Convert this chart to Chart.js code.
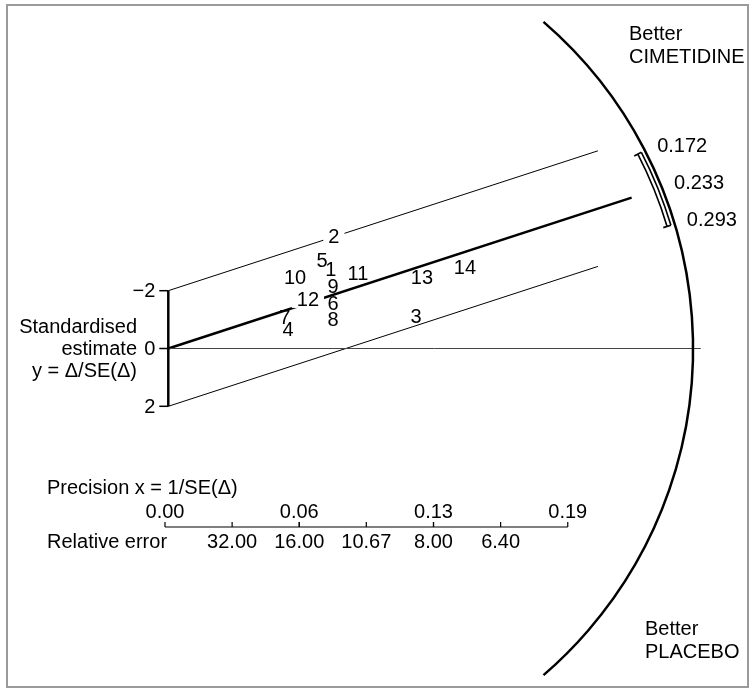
<!DOCTYPE html>
<html lang="en">
<head>
    <meta charset="UTF-8">
    <title>Radial plot - cimetidine vs placebo</title>
    <script src="https://cdn.jsdelivr.net/npm/chart.js"></script>
    <style>
        body {
            margin: 0;
            background: #fff;
        }
        .wrap {
            position: relative;
            width: 754px;
            height: 689px;
        }
    </style>
</head>
<body>
    <div class="wrap">
        <canvas id="radial"></canvas>
    </div>

    <script>
        // study points: precision x = 1/SE, standardised estimate y = est/SE
        const studyIds = ['1', '2', '3', '4', '5', '6', '7', '8', '9', '10', '11', '12', '13', '14'];
        const precision = [0.0757, 0.0771, 0.1153, 0.0557, 0.0716, 0.0767, 0.0543, 0.0767, 0.0767, 0.0590, 0.0883, 0.0650, 0.1181, 0.1381];
        const estimate = [-2.75, -3.89, -1.12, -0.67, -3.03, -1.57, -1.06, -0.99, -2.16, -2.47, -2.61, -1.68, -2.47, -2.82];

        // fitted line and the +-2 band
        const pooledSlope = -24.2;
        const bandHalf = 2;
        const centreLineEnd = 0.2157;
        const bandLineEnd = 0.2;
        const zeroLineEnd = 0.2479;

        // y axis
        const yTicks = [-2, 0, 2];
        const yTickLabels = ['\u22122', '0', '2'];

        // precision axis and relative error
        const precisionTicks = [0, 0.0625, 0.125, 0.1875];
        const precisionLabels = ['0.00', '0.06', '0.13', '0.19'];
        const relErrorTicks = [32, 16, 10.67, 8, 6.4];
        const relErrorLabels = ['32.00', '16.00', '10.67', '8.00', '6.40'];

        // arc scale: slope of each ray and its label (pooled estimate and CI)
        const arcSlopes = [-30.8, -24.2, -18.2];
        const arcLabels = ['0.172', '0.233', '0.293'];

        // labels drawn on a white patch (they break the lines under them)
        const maskedIds = ['2', '12'];

        const FONT = '20px "Liberation Sans", Arial, sans-serif';

        // geometry of the arc, in data units of x
        const arcCentreX = 0.0434;
        const arcRadius = 0.2009;
        const arcHalfAngle = 49.2;

        function rayHit(ox, oy, ux, uy, cx, cy, r) {
            const fx = ox - cx, fy = oy - cy;
            const b = fx * ux + fy * uy;
            const c = fx * fx + fy * fy - r * r;
            const t = -b + Math.sqrt(b * b - c);
            return { x: ox + t * ux, y: oy + t * uy };
        }

        const radialPlot = {
            id: 'radialPlot',
            beforeDatasetsDraw(chart) {
                const ctx = chart.ctx;
                ctx.save();
                ctx.strokeStyle = '#9a9a9a';
                ctx.lineWidth = 2;
                ctx.strokeRect(7, 5, 741, 682);
                ctx.restore();
            },
            afterDatasetsDraw(chart) {
                const ctx = chart.ctx;
                const xs = chart.scales.x, ys = chart.scales.y;
                const ox = xs.getPixelForValue(0), oy = ys.getPixelForValue(0);
                const pxPerX = xs.getPixelForValue(1) - ox;

                ctx.save();
                ctx.fillStyle = '#000';
                ctx.strokeStyle = '#000';
                ctx.font = FONT;

                // vertical axis -2..2
                ctx.lineWidth = 2.5;
                ctx.beginPath();
                ctx.moveTo(ox, ys.getPixelForValue(yTicks[0]));
                ctx.lineTo(ox, ys.getPixelForValue(yTicks[yTicks.length - 1]));
                ctx.stroke();
                ctx.lineWidth = 1.5;
                ctx.textAlign = 'right';
                ctx.textBaseline = 'middle';
                yTicks.forEach((v, i) => {
                    const py = ys.getPixelForValue(v);
                    ctx.beginPath();
                    ctx.moveTo(ox - 9, py);
                    ctx.lineTo(ox, py);
                    ctx.stroke();
                    ctx.fillText(yTickLabels[i], ox - 13, py + 1);
                });
                ctx.fillText('Standardised', 137, 327);
                ctx.fillText('estimate', 137, 349);
                ctx.fillText('y = \u0394/SE(\u0394)', 137, 371);

                // study numbers
                ctx.textAlign = 'center';
                const meta = chart.getDatasetMeta(0);
                meta.data.forEach((pt, i) => {
                    const id = studyIds[i];
                    if (maskedIds.includes(id)) {
                        const w = ctx.measureText(id).width + 10;
                        ctx.fillStyle = '#fff';
                        ctx.fillRect(pt.x - w / 2, pt.y - 8, w, 16);
                        ctx.fillStyle = '#000';
                    }
                    ctx.fillText(id, pt.x, pt.y + 1);
                });

                // outer arc
                const cx = xs.getPixelForValue(arcCentreX), cy = oy;
                const R = arcRadius * pxPerX;
                const a = arcHalfAngle * Math.PI / 180;
                ctx.lineWidth = 2.5;
                ctx.beginPath();
                ctx.arc(cx, cy, R, -a, a);
                ctx.stroke();

                // rays for the arc scale
                const hits = arcSlopes.map(z => {
                    let ux = pxPerX, uy = ys.getPixelForValue(z) - oy;
                    const n = Math.hypot(ux, uy);
                    ux /= n; uy /= n;
                    return {
                        outer: rayHit(ox, oy, ux, uy, cx, cy, R),
                        mid: rayHit(ox, oy, ux, uy, cx, cy, R - 6)
                    };
                });

                // CI bracket inside the arc
                const angA = Math.atan2(hits[0].mid.y - cy, hits[0].mid.x - cx);
                const angB = Math.atan2(hits[2].mid.y - cy, hits[2].mid.x - cx);
                ctx.lineWidth = 1.6;
                [R - 4, R - 8].forEach(r => {
                    ctx.beginPath();
                    ctx.arc(cx, cy, r, angA, angB);
                    ctx.stroke();
                });
                [angA, angB].forEach(ang => {
                    ctx.beginPath();
                    ctx.moveTo(cx + (R - 12) * Math.cos(ang), cy + (R - 12) * Math.sin(ang));
                    ctx.lineTo(cx + (R - 4) * Math.cos(ang), cy + (R - 4) * Math.sin(ang));
                    ctx.stroke();
                });

                ctx.textAlign = 'left';
                hits.forEach((h, i) => {
                    ctx.fillText(arcLabels[i], h.outer.x + 12, h.outer.y - 4);
                });

                ctx.fillText('Better', 629, 34);
                ctx.fillText('CIMETIDINE', 629, 57);
                ctx.fillText('Better', 645, 629);
                ctx.fillText('PLACEBO', 645, 652);

                // precision axis with relative error underneath
                const axisY = 527;
                const shift = -3.3;
                const px = v => xs.getPixelForValue(v) + shift;
                ctx.fillText('Precision x = 1/SE(\u0394)', 47, 488);
                ctx.fillText('Relative error', 47, 542);
                ctx.lineWidth = 1.2;
                ctx.beginPath();
                ctx.moveTo(px(precisionTicks[0]), axisY);
                ctx.lineTo(px(precisionTicks[precisionTicks.length - 1]), axisY);
                ctx.stroke();
                ctx.textAlign = 'center';
                precisionTicks.forEach((v, i) => {
                    ctx.beginPath();
                    ctx.moveTo(px(v), axisY - 5);
                    ctx.lineTo(px(v), axisY);
                    ctx.stroke();
                    ctx.fillText(precisionLabels[i], px(v), 512);
                });
                relErrorTicks.forEach((v, i) => {
                    ctx.beginPath();
                    ctx.moveTo(px(1 / v), axisY - 5);
                    ctx.lineTo(px(1 / v), axisY);
                    ctx.stroke();
                    ctx.fillText(relErrorLabels[i], px(1 / v), 542);
                });

                ctx.restore();
            }
        };

        const lineSet = (pts, width, colour) => ({
            type: 'line',
            data: pts,
            borderColor: colour,
            borderWidth: width,
            pointRadius: 0,
            fill: false
        });

        const chart = new Chart(document.getElementById('radial'), {
            type: 'scatter',
            data: {
                datasets: [
                    {
                        label: 'Studies',
                        data: studyIds.map((id, i) => ({ x: precision[i], y: estimate[i] })),
                        pointRadius: 0
                    },
                    lineSet([{ x: 0, y: 0 }, { x: zeroLineEnd, y: 0 }], 1, '#444'),
                    lineSet([{ x: 0, y: 0 }, { x: centreLineEnd, y: pooledSlope * centreLineEnd }], 2.5, '#000'),
                    lineSet([{ x: 0, y: -bandHalf }, { x: bandLineEnd, y: pooledSlope * bandLineEnd - bandHalf }], 1, '#000'),
                    lineSet([{ x: 0, y: bandHalf }, { x: bandLineEnd, y: pooledSlope * bandLineEnd + bandHalf }], 1, '#000')
                ]
            },
            options: {
                responsive: true,
                maintainAspectRatio: false,
                animation: false,
                events: [],
                layout: { padding: 0 },
                plugins: {
                    legend: { display: false },
                    tooltip: { enabled: false }
                },
                scales: {
                    x: { type: 'linear', display: false, min: -0.07835, max: 0.27267 },
                    y: { type: 'linear', display: false, min: -12.059, max: 11.782, reverse: true }
                }
            },
            plugins: [radialPlot]
        });
    </script>
</body>
</html>
